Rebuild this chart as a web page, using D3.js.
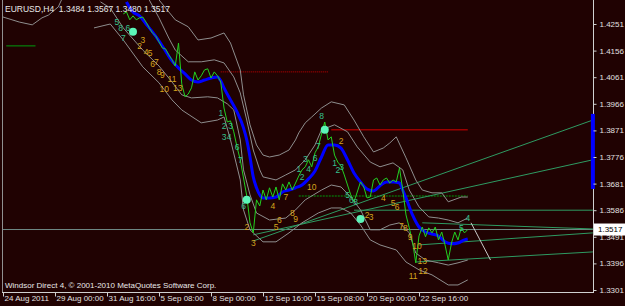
<!DOCTYPE html>
<html>
<head>
<meta charset="utf-8">
<script src="https://cdn.jsdelivr.net/npm/d3@7"></script>
<style>
body { margin: 0; background: #200202; }
svg { display: block; font-family: "Liberation Sans", Arial, sans-serif; }
</style>
</head>
<body>
<div id="chart"></div>
<script>
var w = 625;
var h = 306;

// y axis ticks and bottom time labels (bar index on an H4 chart)
var yTicks = [1.4251, 1.4156, 1.4061, 1.3966, 1.3871, 1.3776, 1.3681, 1.3586, 1.3491, 1.3396, 1.3301];
var timeBars = [0, 16, 32, 48, 64, 80, 96, 112, 128];
var timeLabels = ["24 Aug 2011", "29 Aug 00:00", "31 Aug 16:00", "5 Sep 08:00", "8 Sep 00:00",
                  "12 Sep 16:00", "15 Sep 08:00", "20 Sep 00:00", "22 Sep 16:00"];

// close line, one value per bar starting at bar 37
var firstCloseBar = 37;
var closeVals = [1.4287, 1.4294, 1.4266, 1.4280, 1.4266, 1.4273, 1.4276, 1.4258, 1.4237, 1.4219,
                 1.4208, 1.4187, 1.4166, 1.4162, 1.4141, 1.4123, 1.4101, 1.4183, 1.4037, 1.3991,
                 1.4001, 1.4023, 1.4080, 1.4051, 1.4066, 1.4087, 1.4091, 1.4058, 1.4080, 1.4066,
                 1.4044, 1.3951, 1.3901, 1.3905, 1.3866, 1.3812, 1.3766, 1.3701, 1.3637, 1.3541,
                 1.3505, 1.3623, 1.3601, 1.3658, 1.3623, 1.3666, 1.3633, 1.3669, 1.3623, 1.3680,
                 1.3658, 1.3687, 1.3658, 1.3683, 1.3708, 1.3730, 1.3741, 1.3766, 1.3741, 1.3791,
                 1.3812, 1.3858, 1.3901, 1.3837, 1.3848, 1.3783, 1.3758, 1.3744, 1.3712, 1.3676,
                 1.3641, 1.3616, 1.3651, 1.3687, 1.3669, 1.3630, 1.3633, 1.3694, 1.3701, 1.3676,
                 1.3694, 1.3701, 1.3683, 1.3694, 1.3687, 1.3737, 1.3658, 1.3569, 1.3523, 1.3473,
                 1.3398, 1.3494, 1.3526, 1.3491, 1.3523, 1.3505, 1.3526, 1.3480, 1.3508, 1.3462,
                 1.3408, 1.3469, 1.3508, 1.3480, 1.3523, 1.3505, 1.3517];

// moving average (blue)
var maBars = [38, 40, 42, 44, 46, 48, 50, 52, 54, 56, 58, 60, 62, 64, 66, 67, 68, 70, 72, 74,
              75, 76, 77, 78, 80, 82, 84, 86, 88, 90, 92, 94, 96, 98, 100, 102, 104, 106, 108, 110,
              112, 114, 116, 118, 120, 122, 123, 124, 126, 128, 130, 132, 134, 136, 138, 140, 142, 143];
var maVals = [1.4330, 1.4294, 1.4280, 1.4251, 1.4223, 1.4191, 1.4155, 1.4119, 1.4094, 1.4073,
              1.4051, 1.4044, 1.4051, 1.4058, 1.4062, 1.4048, 1.4023, 1.3980, 1.3937, 1.3880,
              1.3837, 1.3776, 1.3705, 1.3666, 1.3630, 1.3630, 1.3633, 1.3651, 1.3658, 1.3666,
              1.3676, 1.3698, 1.3726, 1.3776, 1.3819, 1.3819, 1.3808, 1.3766, 1.3719, 1.3687,
              1.3662, 1.3655, 1.3673, 1.3687, 1.3687, 1.3683, 1.3658, 1.3630, 1.3569, 1.3526,
              1.3508, 1.3501, 1.3494, 1.3473, 1.3466, 1.3469, 1.3480, 1.3483];

// envelope bands (grey)
var upperOuterBars = [48, 53, 57, 60, 64, 68, 70, 73, 74, 76, 78, 80, 82, 85, 88, 90, 91, 93, 95, 98,
                      101, 105, 108, 111, 114, 117, 119, 121, 124, 127, 129, 132, 135, 137, 141, 143];
var upperOuterVals = [1.4337, 1.4266, 1.4241, 1.4194, 1.4201, 1.4219, 1.4183, 1.4087, 1.3998, 1.3891,
                      1.3819, 1.3783, 1.3776, 1.3783, 1.3801, 1.3837, 1.3862, 1.3898, 1.3919, 1.3951,
                      1.3973, 1.3962, 1.3908, 1.3848, 1.3794, 1.3808, 1.3826, 1.3848, 1.3773, 1.3694,
                      1.3658, 1.3648, 1.3648, 1.3616, 1.3633, 1.3633];
var upperInnerBars = [45, 48, 51, 53, 57, 61, 65, 68, 71, 73, 75, 77, 79, 80, 84, 87, 90, 93, 96, 98,
                      102, 106, 109, 113, 116, 120, 123, 125, 128, 131, 134, 137, 140, 143];
var upperInnerVals = [1.4337, 1.4273, 1.4201, 1.4158, 1.4116, 1.4116, 1.4123, 1.4112, 1.4062, 1.4005,
                      1.3908, 1.3801, 1.3730, 1.3705, 1.3694, 1.3712, 1.3730, 1.3766, 1.3819, 1.3873,
                      1.3891, 1.3866, 1.3812, 1.3758, 1.3741, 1.3755, 1.3730, 1.3658, 1.3598, 1.3562,
                      1.3558, 1.3551, 1.3541, 1.3558];
var lowerInnerBars = [30, 33, 37, 43, 48, 52, 55, 58, 63, 66, 69, 71, 73, 74, 76, 78, 82, 87, 90, 93,
                      98, 101, 104, 107, 110, 113, 116, 119, 122, 125, 127, 130, 134, 137, 140, 143];
var lowerInnerVals = [1.4330, 1.4308, 1.4237, 1.4158, 1.4101, 1.4044, 1.3998, 1.3987, 1.3991, 1.3987,
                      1.3966, 1.3944, 1.3837, 1.3730, 1.3641, 1.3576, 1.3551, 1.3558, 1.3587, 1.3623,
                      1.3658, 1.3676, 1.3669, 1.3633, 1.3587, 1.3516, 1.3516, 1.3533, 1.3541, 1.3505,
                      1.3433, 1.3408, 1.3398, 1.3390, 1.3398, 1.3408];
var lowerOuterBars = [28, 33, 37, 43, 48, 52, 55, 61, 66, 68, 70, 73, 74, 76, 80, 84, 88, 92, 97, 101,
                      104, 107, 110, 113, 116, 121, 124, 128, 132, 137, 140, 143];
var lowerOuterVals = [1.4237, 1.4251, 1.4194, 1.4098, 1.4041, 1.3980, 1.3944, 1.3898, 1.3908, 1.3919,
                      1.3837, 1.3694, 1.3587, 1.3516, 1.3473, 1.3473, 1.3505, 1.3541, 1.3576, 1.3594,
                      1.3594, 1.3576, 1.3533, 1.3480, 1.3462, 1.3444, 1.3401, 1.3373, 1.3355, 1.3319,
                      1.3319, 1.3337];
var leftBandBars = [0, 5, 9, 12, 14, 17, 18];
var leftBandVals = [1.4276, 1.4258, 1.4248, 1.4273, 1.4283, 1.4312, 1.4337];

// horizontal levels: [from bar, to bar, price]
var redLevels = [[67, 100, 1.4080], [101, 143, 1.3873]];
var darkGreenLevels = [[1, 10, 1.4173], [91, 143, 1.3637]];
var greenLevel = [108, 181.5, 1.3586];
var bidPrice = 1.3517;

// trend lines: [bar1, price1, bar2, price2]
var trendLines = [[77, 1.3476, 181.5, 1.3908],
                  [77, 1.3498, 181.5, 1.3766],
                  [129, 1.3541, 181.5, 1.3519],
                  [128, 1.3462, 181.5, 1.3505],
                  [127, 1.3401, 181.5, 1.3437]];
var whiteSegment = [144, 1.3541, 150, 1.3408];
var rangeBar = [1.3662, 1.3930];

// count labels: [bar, price, text]
var yellowLabels = [[42, 1.4173, "2"], [43, 1.4194, "3"], [44, 1.4151, "4"], [45.3, 1.4148, "5"],
                    [46, 1.4108, "6"], [47.2, 1.4116, "7"], [48, 1.4080, "8"], [49, 1.4069, "9"],
                    [49.6, 1.4019, "10"], [52, 1.4055, "11"], [53.8, 1.4023, "13"],
                    [75, 1.3526, "2"], [77, 1.3469, "3"], [83, 1.3601, "4"], [84, 1.3526, "5"],
                    [85, 1.3551, "6"], [87, 1.3633, "7"], [89, 1.3576, "8"], [90, 1.3555, "9"],
                    [95, 1.3669, "10"], [104, 1.3833, "2"], [112, 1.3569, "2"], [113.3, 1.3562, "3"],
                    [117, 1.3630, "4"], [120, 1.3612, "5"], [121.3, 1.3598, "6"], [122.6, 1.3530, "7"],
                    [123.8, 1.3523, "8"], [125.3, 1.3489, "9"], [127.4, 1.3458, "10"], [129, 1.3405, "13"],
                    [126.2, 1.3351, "11"], [129.2, 1.3367, "12"]];
var tealLabels = [[35, 1.4258, "5"], [36.2, 1.4237, "8"], [38.4, 1.4237, "6"], [37, 1.4201, "7"],
                  [67, 1.3933, "1"], [68, 1.3887, "2"], [70, 1.3885, "3"], [68, 1.3848, "3"],
                  [69.6, 1.3848, "4"], [72, 1.3812, "6"], [73, 1.3766, "7"], [74, 1.3601, "6"],
                  [91, 1.3733, "1"], [92, 1.3705, "2"], [93, 1.3769, "3"], [94, 1.3733, "4"],
                  [96, 1.3773, "6"], [97, 1.3816, "7"], [98, 1.3923, "8"], [102, 1.3755, "1"],
                  [103, 1.3730, "2"], [104.2, 1.3741, "3"], [106, 1.3641, "5"], [107.2, 1.3623, "6"],
                  [108.5, 1.3616, "8"], [143, 1.3558, "4"], [141, 1.3523, "5"]];
var dotBars = [40, 75, 99, 110];
var dotVals = [1.4223, 1.3623, 1.3873, 1.3555];

var x = d3.scaleLinear().domain([0, 181.5]).range([3, 592.875]);
var y = d3.scaleLinear().domain([1.3301, 1.4251]).range([290, 24]);

var svg = d3.select("#chart")
            .append("svg")
            .attr("width", w)
            .attr("height", h);

svg.append("rect").attr("width", w).attr("height", h).attr("fill", "#200202");

svg.append("clipPath").attr("id", "plot")
   .append("rect").attr("x", 3).attr("y", 0).attr("width", 590).attr("height", 292);
var plot = svg.append("g").attr("clip-path", "url(#plot)");

var line = d3.line()
             .x(function(d) { return x(d[0]); })
             .y(function(d) { return y(d[1]); });

// bid line
plot.append("line")
    .attr("x1", x(0)).attr("x2", x(181.5))
    .attr("y1", y(bidPrice)).attr("y2", y(bidPrice))
    .attr("stroke", "#6f8a86").attr("stroke-width", 1);

// levels
plot.append("line")
    .attr("x1", x(greenLevel[0])).attr("x2", x(greenLevel[1]))
    .attr("y1", y(greenLevel[2])).attr("y2", y(greenLevel[2]))
    .attr("stroke", "#2e9b62");
plot.selectAll("line.dg")
    .data(darkGreenLevels)
    .enter().append("line")
    .attr("class", "dg")
    .attr("x1", function(d) { return x(d[0]); })
    .attr("x2", function(d) { return x(d[1]); })
    .attr("y1", function(d) { return y(d[2]); })
    .attr("y2", function(d) { return y(d[2]); })
    .attr("stroke", "#0a6a0a")
    .attr("stroke-width", 1.5)
    .attr("stroke-dasharray", function(d, i) { return i == 1 ? "2,1" : null; });
plot.selectAll("line.red")
    .data(redLevels)
    .enter().append("line")
    .attr("class", "red")
    .attr("x1", function(d) { return x(d[0]); })
    .attr("x2", function(d) { return x(d[1]); })
    .attr("y1", function(d) { return y(d[2]); })
    .attr("y2", function(d) { return y(d[2]); })
    .attr("stroke", function(d, i) { return i == 0 ? "#c80000" : "#d80000"; })
    .attr("stroke-dasharray", function(d, i) { return i == 0 ? "1,1" : null; });

// trend lines
plot.selectAll("line.trend")
    .data(trendLines)
    .enter().append("line")
    .attr("class", "trend")
    .attr("x1", function(d) { return x(d[0]); })
    .attr("y1", function(d) { return y(d[1]); })
    .attr("x2", function(d) { return x(d[2]); })
    .attr("y2", function(d) { return y(d[3]); })
    .attr("stroke", "#2e9b62");

plot.append("line")
    .attr("x1", x(whiteSegment[0])).attr("y1", y(whiteSegment[1]))
    .attr("x2", x(whiteSegment[2])).attr("y2", y(whiteSegment[3]))
    .attr("stroke", "#c8c8c8");

// grey bands
var bands = [[upperOuterBars, upperOuterVals], [upperInnerBars, upperInnerVals],
             [lowerInnerBars, lowerInnerVals], [lowerOuterBars, lowerOuterVals],
             [leftBandBars, leftBandVals]];
plot.selectAll("path.band")
    .data(bands)
    .enter().append("path")
    .attr("class", "band")
    .attr("d", function(d) { return line(d3.zip(d[0], d[1])); })
    .attr("fill", "none")
    .attr("stroke", "#8e8e8e")
    .attr("stroke-width", 1);

// moving average
plot.append("path")
    .attr("d", line.curve(d3.curveMonotoneX)(d3.zip(maBars, maVals)))
    .attr("fill", "none")
    .attr("stroke", "#0000ff")
    .attr("stroke-width", 3)
    .attr("stroke-linejoin", "round");
line.curve(d3.curveLinear);

// close line
var closeData = closeVals.map(function(v, i) { return [firstCloseBar + i, v]; });
plot.append("path")
    .attr("d", line(closeData))
    .attr("fill", "none")
    .attr("stroke", "#22d022")
    .attr("stroke-width", 1);

// dots
plot.selectAll("circle.dot")
    .data(d3.zip(dotBars, dotVals))
    .enter().append("circle")
    .attr("class", "dot")
    .attr("cx", function(d) { return x(d[0]); })
    .attr("cy", function(d) { return y(d[1]); })
    .attr("r", 4)
    .attr("fill", "#5cf5b8");

// count labels
function labels(data, color) {
    plot.selectAll(null)
        .data(data)
        .enter().append("text")
        .attr("x", function(d) { return x(d[0]); })
        .attr("y", function(d) { return y(d[1]); })
        .attr("dy", "0.35em")
        .attr("text-anchor", "middle")
        .attr("font-size", 8.5)
        .attr("fill", color)
        .text(function(d) { return d[2]; });
}
labels(yellowLabels, "#d6a41c");
labels(tealLabels, "#36c08e");

// frame
svg.append("line").attr("x1", 2.5).attr("x2", 2.5).attr("y1", 0).attr("y2", 292).attr("stroke", "#909090");
svg.append("line").attr("x1", 593.5).attr("x2", 593.5).attr("y1", 0).attr("y2", 292).attr("stroke", "#d0d0d0");
svg.append("line").attr("x1", 2).attr("x2", 594).attr("y1", 292.5).attr("y2", 292.5).attr("stroke", "#d0d0d0");

// blue range bar at right edge
svg.append("rect")
   .attr("x", x(181.5) - 2)
   .attr("y", y(rangeBar[1]))
   .attr("width", 4)
   .attr("height", y(rangeBar[0]) - y(rangeBar[1]))
   .attr("fill", "#0000ff");

// y axis
var yAxis = svg.append("g")
   .attr("transform", "translate(593.5,0)")
   .call(d3.axisRight(y).tickValues(yTicks).tickSize(3).tickFormat(d3.format(".4f")));
yAxis.select(".domain").remove();
yAxis.selectAll("line").attr("stroke", "#d0d0d0");
yAxis.selectAll("text").attr("fill", "#e0e0e0").attr("font-size", 8)
     .attr("font-family", "Liberation Sans, Arial, sans-serif");

// x axis
var xAxis = svg.append("g")
   .attr("transform", "translate(0,292.5)")
   .call(d3.axisBottom(x).tickValues(timeBars).tickSize(4)
           .tickFormat(function(d, i) { return timeLabels[i]; }));
xAxis.select(".domain").remove();
xAxis.selectAll("line").attr("stroke", "#d0d0d0");
xAxis.selectAll("text").attr("fill", "#e0e0e0").attr("font-size", 8)
     .attr("font-family", "Liberation Sans, Arial, sans-serif")
     .attr("text-anchor", "start").attr("x", 1).attr("y", 3);

// bid price box
svg.append("rect")
   .attr("x", 594).attr("y", y(bidPrice) - 6)
   .attr("width", 31).attr("height", 12)
   .attr("fill", "#ffffff");
svg.append("text")
   .attr("x", 598).attr("y", y(bidPrice)).attr("dy", "0.35em")
   .attr("font-size", 8).attr("fill", "#000")
   .text(d3.format(".4f")(bidPrice));

// header and footer
svg.append("text")
   .attr("x", 5).attr("y", 12)
   .attr("font-size", 8.5).attr("fill", "#e8e8e8")
   .attr("xml:space", "preserve")
   .text("EURUSD,H4  1.3484 1.3567 1.3480 1.3517");
svg.append("text")
   .attr("x", 5).attr("y", 288)
   .attr("font-size", 8).attr("fill", "#e8e8e8")
   .text("Windsor Direct 4, \u00a9 2001-2010 MetaQuotes Software Corp.");
</script>
</body>
</html>
